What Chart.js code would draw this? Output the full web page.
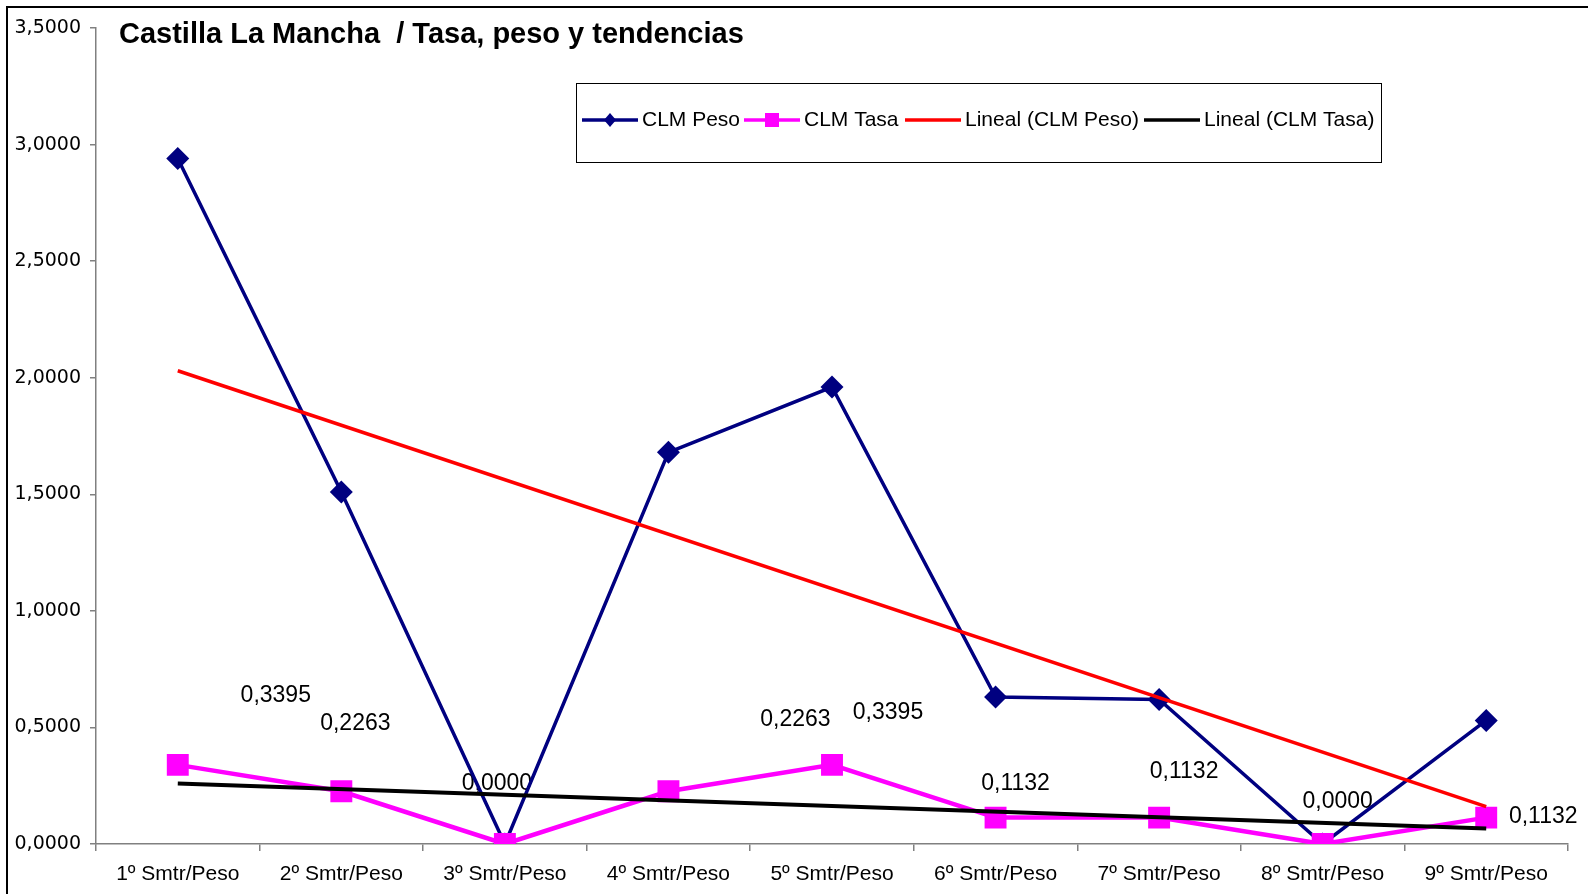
<!DOCTYPE html>
<html>
<head>
<meta charset="utf-8">
<script src="https://cdn.jsdelivr.net/npm/chart.js@4.4.0/dist/chart.umd.min.js"></script>
<style>
html, body { margin: 0; padding: 0; background: #fff; }
#wrap { width: 1588px; height: 894px; position: relative; }
</style>
</head>
<body>
<div id="wrap"><canvas id="clmChart"></canvas></div>
<script>
// data
const categories = ['1º Smtr/Peso', '2º Smtr/Peso', '3º Smtr/Peso', '4º Smtr/Peso', '5º Smtr/Peso',
                    '6º Smtr/Peso', '7º Smtr/Peso', '8º Smtr/Peso', '9º Smtr/Peso'];
const pesoValues = [2.94, 1.51, 0, 1.68, 1.96, 0.63, 0.62, 0, 0.53];
const tasaValues = [0.3395, 0.2263, 0, 0.2263, 0.3395, 0.1132, 0.1132, 0, 0.1132];
// trend lines: only the end points are kept, the line spans the gaps
const tendPeso = [2.03, null, null, null, null, null, null, null, 0.16];
const tendTasa = [0.26, null, null, null, null, null, null, null, 0.066];
const yTicks = [0, 0.5, 1, 1.5, 2, 2.5, 3, 3.5];

// where the value labels of CLM Tasa sit, relative to their point (px)
const labelShift = [[98, -69], [14, -68], [-8, -60], [127, -72], [56, -52], [20, -34], [25, -46], [15, -42], [57, -1]];

const fmt = v => v.toFixed(4).replace('.', ',');
const ARIAL = '"Liberation Sans", Arial, sans-serif';

// small diamond for the legend
function diamond(w, h, color) {
    const c = document.createElement('canvas');
    c.width = w; c.height = h;
    const g = c.getContext('2d');
    g.fillStyle = color;
    g.beginPath();
    g.moveTo(w / 2, 0); g.lineTo(w, h / 2); g.lineTo(w / 2, h); g.lineTo(0, h / 2);
    g.closePath(); g.fill();
    return c;
}

const sheetDecor = {
    id: 'sheetDecor',
    beforeDraw(chart) {
        const ctx = chart.ctx;
        ctx.save();
        ctx.fillStyle = '#fff';
        ctx.fillRect(0, 0, chart.width, chart.height);
        ctx.strokeStyle = '#000';
        ctx.lineWidth = 2;
        ctx.strokeRect(7, 7, chart.width + 50, chart.height + 50);
        ctx.restore();
    },
    beforeDatasetsDraw(chart) {
        const ctx = chart.ctx;
        const meta = chart.getDatasetMeta(1);
        ctx.save();
        ctx.font = '23px ' + ARIAL;
        ctx.fillStyle = '#000';
        ctx.textAlign = 'center';
        ctx.textBaseline = 'middle';
        meta.data.forEach((pt, i) => {
            const s = labelShift[i];
            ctx.fillText(fmt(tasaValues[i]), pt.x + s[0], pt.y + s[1]);
        });
        ctx.restore();
    },
    afterDraw(chart) {
        const ctx = chart.ctx;
        ctx.save();
        // title
        ctx.font = 'bold 29px ' + ARIAL;
        ctx.fillStyle = '#000';
        ctx.textBaseline = 'middle';
        ctx.fillText('Castilla La Mancha  / Tasa, peso y tendencias', 119, 35);

        // legend box
        ctx.strokeStyle = '#000';
        ctx.lineWidth = 1;
        ctx.strokeRect(576.5, 83.5, 805, 79);
        const ly = 120;
        const starts = [582, 744, 905, 1144];
        ctx.font = '21px ' + ARIAL;
        chart.data.datasets.forEach((ds, i) => {
            const x0 = starts[i];
            ctx.strokeStyle = ds.borderColor;
            ctx.lineWidth = 3.5;
            ctx.beginPath();
            ctx.moveTo(x0, ly); ctx.lineTo(x0 + 56, ly);
            ctx.stroke();
            if (i === 0) {
                ctx.drawImage(diamond(12, 14, '#000080'), x0 + 22, ly - 7);
            } else if (i === 1) {
                ctx.fillStyle = '#FF00FF';
                ctx.fillRect(x0 + 21, ly - 7, 14, 14);
            }
            ctx.fillStyle = '#000';
            ctx.fillText(ds.label, x0 + 60, ly);
        });
        ctx.restore();
    }
};

const ctx = document.getElementById('clmChart').getContext('2d');
new Chart(ctx, {
    type: 'line',
    data: {
        labels: categories,
        datasets: [
            {
                label: 'CLM Peso',
                data: pesoValues,
                borderColor: '#000080',
                backgroundColor: '#000080',
                borderWidth: 3.5,
                pointStyle: 'rectRot',
                pointRadius: 11.5,
                pointBorderWidth: 0,
                order: 3
            },
            {
                label: 'CLM Tasa',
                data: tasaValues,
                borderColor: '#FF00FF',
                backgroundColor: '#FF00FF',
                borderWidth: 4.5,
                pointStyle: 'rect',
                pointRadius: 15.5,
                pointBorderWidth: 0,
                order: 2
            },
            {
                label: 'Lineal (CLM Peso)',
                data: tendPeso,
                borderColor: '#FF0000',
                borderWidth: 3.5,
                pointRadius: 0,
                spanGaps: true,
                order: 1
            },
            {
                label: 'Lineal (CLM Tasa)',
                data: tendTasa,
                borderColor: '#000000',
                borderWidth: 4,
                pointRadius: 0,
                spanGaps: true,
                order: 0
            }
        ]
    },
    options: {
        responsive: true,
        maintainAspectRatio: false,
        animation: false,
        layout: { padding: { top: 28, right: 20, left: 0, bottom: 0 } },
        elements: { line: { tension: 0 } },
        plugins: {
            legend: { display: false },
            title: { display: false },
            tooltip: { enabled: false }
        },
        scales: {
            x: {
                offset: true,
                grid: { offset: true, drawOnChartArea: false, tickLength: 7, color: '#808080', lineWidth: 1.5 },
                border: { color: '#808080', width: 1.5 },
                ticks: {
                    color: '#000',
                    font: { family: ARIAL, size: 21 },
                    padding: 11,
                    maxRotation: 0,
                    autoSkip: false
                },
                afterFit(scale) { scale.height = 50; }
            },
            y: {
                min: 0,
                max: 3.5,
                afterBuildTicks(scale) { scale.ticks = yTicks.map(v => ({ value: v })); },
                grid: { drawOnChartArea: false, tickLength: 6, color: '#808080', lineWidth: 1.5 },
                border: { color: '#808080', width: 1.5 },
                ticks: {
                    color: '#000',
                    font: { family: '"DejaVu Sans", Verdana, sans-serif', size: 19 },
                    padding: 9,
                    callback: v => fmt(v)
                },
                afterFit(scale) { scale.width = 96; }
            }
        }
    },
    plugins: [sheetDecor]
});
</script>
</body>
</html>
